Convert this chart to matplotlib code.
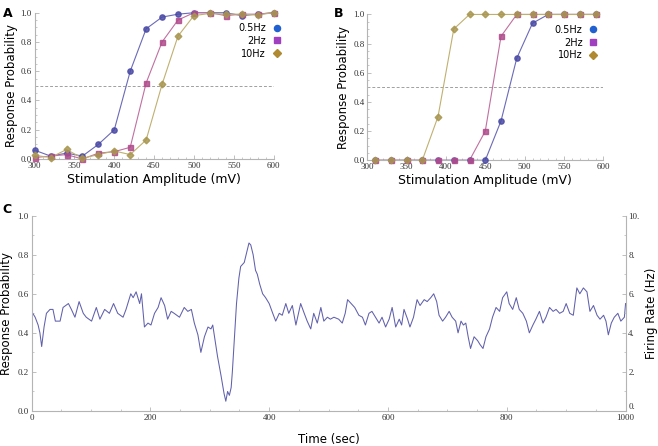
import matplotlib
matplotlib.use("Agg")
import matplotlib.pyplot as plt
from matplotlib.lines import Line2D
from matplotlib.ticker import MultipleLocator

# ---------------- data ----------------
amp_a = [300, 320, 340, 360, 380, 400, 420, 440, 460, 480, 500, 520, 540, 560, 580, 600]
a_05hz = [0.06, 0.02, 0.04, 0.02, 0.10, 0.20, 0.60, 0.89, 0.97, 0.99, 1.0, 1.0, 1.0, 0.98, 0.99, 1.0]
a_2hz = [0.01, 0.02, 0.03, 0.0, 0.04, 0.05, 0.08, 0.52, 0.80, 0.95, 1.0, 1.0, 0.98, 0.99, 0.99, 1.0]
a_10hz = [0.025, 0.01, 0.065, 0.005, 0.03, 0.055, 0.03, 0.13, 0.51, 0.84, 0.98, 0.995, 0.99, 0.99, 0.985, 1.0]

amp_b = [310, 330, 350, 370, 390, 410, 430, 450, 470, 490, 510, 530, 550, 570, 590]
b_05hz = [0, 0, 0, 0, 0, 0, 0, 0.0, 0.27, 0.70, 0.94, 1.0, 1.0, 1.0, 1.0]
b_2hz = [0, 0, 0, 0, 0, 0, 0.0, 0.20, 0.85, 1.0, 1.0, 1.0, 1.0, 1.0, 1.0]
b_10hz = [0, 0, 0, 0.0, 0.30, 0.90, 1.0, 1.0, 1.0, 1.0, 1.0, 1.0, 1.0, 1.0, 1.0]

series_labels = ["0.5Hz", "2Hz", "10Hz"]

amp_ticks = [300, 350, 400, 450, 500, 550, 600]
prob_ticks = [0.0, 0.2, 0.4, 0.6, 0.8, 1.0]
prob_tick_labels = ["0.0", "0.2", "0.4", "0.6", "0.8", "1.0"]
time_ticks = [0, 200, 400, 600, 800, 1000]
rate_ticks = [0, 2, 4, 6, 8, 10]
rate_tick_labels = ["0.", "2.", "4.", "6.", "8.", "10."]

time_c = [0, 6, 11, 14, 17, 21, 25, 31, 36, 40, 48, 53, 62, 67, 73, 80, 87, 92, 101, 109,
          115, 123, 131, 138, 145, 154, 159, 167, 171, 176, 182, 185, 190, 196, 201, 207,
          213, 218, 224, 229, 235, 240, 249, 257, 263, 269, 274, 280, 285, 291, 297, 302,
          305, 308, 313, 319, 324, 327, 330, 333, 336, 338, 341, 345, 349, 352, 358, 362,
          366, 369, 373, 377, 380, 384, 389, 394, 400, 406, 411, 417, 422, 428, 433, 439,
          445, 453, 459, 464, 470, 475, 481, 487, 492, 498, 503, 509, 517, 523, 528, 532,
          538, 544, 551, 557, 562, 568, 573, 579, 585, 590, 596, 602, 607, 613, 619, 623,
          627, 633, 637, 643, 649, 654, 661, 666, 672, 677, 682, 686, 692, 697, 703, 708,
          714, 718, 723, 727, 731, 735, 739, 745, 751, 755, 760, 765, 771, 776, 782, 788,
          793, 800, 804, 810, 816, 821, 827, 833, 838, 844, 849, 855, 861, 866, 872, 878,
          883, 889, 895, 900, 906, 912, 918, 923, 929, 935, 940, 946, 952, 957, 963, 967,
          971, 976, 981, 987, 992, 998, 1000]
prob_c = [0.51, 0.48, 0.44, 0.40, 0.33, 0.43, 0.50, 0.52, 0.52, 0.46, 0.46, 0.53, 0.55, 0.52, 0.48, 0.56, 0.50, 0.48, 0.46, 0.53,
          0.47, 0.52, 0.50, 0.55, 0.50, 0.48, 0.52, 0.60, 0.58, 0.61, 0.55, 0.60, 0.43, 0.45, 0.44, 0.50,
          0.53, 0.58, 0.54, 0.47, 0.51, 0.50, 0.48, 0.53, 0.51, 0.52, 0.45, 0.39, 0.30, 0.38, 0.43, 0.42,
          0.44, 0.38, 0.28, 0.18, 0.09, 0.05, 0.10, 0.08, 0.12, 0.20, 0.35, 0.55, 0.68, 0.74, 0.76, 0.81,
          0.86, 0.85, 0.80, 0.72, 0.70, 0.65, 0.60, 0.58, 0.55, 0.50, 0.46, 0.50, 0.49, 0.55, 0.50, 0.54,
          0.44, 0.55, 0.50, 0.46, 0.42, 0.50, 0.45, 0.53, 0.46, 0.48, 0.47, 0.48, 0.47, 0.45, 0.50, 0.57,
          0.55, 0.53, 0.49, 0.48, 0.44, 0.50, 0.51, 0.48, 0.45, 0.48, 0.43, 0.47, 0.53, 0.43, 0.47, 0.44,
          0.52, 0.47, 0.43, 0.48, 0.57, 0.54, 0.57, 0.56, 0.58, 0.60, 0.56, 0.49, 0.46, 0.48, 0.51, 0.48,
          0.46, 0.40, 0.46, 0.44, 0.45, 0.38, 0.32, 0.38, 0.36, 0.34, 0.32, 0.38, 0.42, 0.48, 0.53, 0.51,
          0.58, 0.61, 0.55, 0.52, 0.58, 0.52, 0.50, 0.46, 0.40, 0.44, 0.47, 0.51, 0.45, 0.48, 0.53, 0.51,
          0.52, 0.50, 0.51, 0.55, 0.50, 0.49, 0.63, 0.60, 0.63, 0.61, 0.51, 0.54, 0.49, 0.47, 0.49, 0.46,
          0.39, 0.45, 0.48, 0.50, 0.46, 0.48, 0.55]

# ---------------- style ----------------
line_cols = ["#6a6ab8", "#c070a0", "#c0b070"]
mark_cols = ["#4a4aa6", "#b04c8c", "#a89650"]
leg_cols = ["#2060d0", "#a040c0", "#b08a30"]
markers = ["o", "s", "D"]
msizes = [3.8, 3.6, 3.4]
axis_col = "#b4b4b4"
serif = "Liberation Serif"
sans = "DejaVu Sans"
tick_fs = 6.5
label_fs = 8.5

fig = plt.figure(figsize=(6.58, 4.46), dpi=100)


def style_ticks(ax):
    ax.tick_params(which="both", direction="in", color=axis_col, labelsize=tick_fs,
                   labelcolor="#333333", pad=2)
    ax.tick_params(which="major", length=3, width=0.6)
    ax.tick_params(which="minor", length=1.6, width=0.5)
    for lab in ax.get_xticklabels() + ax.get_yticklabels():
        lab.set_fontfamily(serif)


def style_axes(ax):
    for s in ["top", "right"]:
        ax.spines[s].set_visible(False)
    for s in ["left", "bottom"]:
        ax.spines[s].set_color(axis_col)
        ax.spines[s].set_linewidth(0.8)
    style_ticks(ax)


def panel(rect, amp, series, letter, lx, leg_x):
    ax = fig.add_axes(rect)
    ax.axhline(0.5, color="#a0a0a0", lw=0.7, ls=(0, (3, 2)), zorder=1)
    for i, ys in enumerate(series):
        ax.plot(amp, ys, color=line_cols[i], lw=0.8, zorder=2, clip_on=False)
        ax.plot(amp, ys, ls="none", marker=markers[i], ms=msizes[i], mfc=mark_cols[i],
                mec=mark_cols[i], alpha=0.85, zorder=3, clip_on=False)
    ax.set_xlim(300, 600)
    ax.set_ylim(0, 1.0)
    ax.set_xticks(amp_ticks)
    ax.xaxis.set_minor_locator(MultipleLocator(10))
    ax.set_yticks(prob_ticks, prob_tick_labels)
    ax.yaxis.set_minor_locator(MultipleLocator(0.05))
    style_axes(ax)
    ax.set_xlabel("Stimulation Amplitude (mV)", fontsize=label_fs + 0.5, fontfamily=sans, labelpad=2)
    ax.set_ylabel("Response Probability", fontsize=label_fs, fontfamily=sans, labelpad=2)
    handles = [Line2D([], [], ls="none", marker=markers[i], ms=msizes[i] + 0.6,
                      mfc=leg_cols[i], mec=leg_cols[i]) for i in range(3)]
    ax.legend(handles, series_labels, loc="upper right", bbox_to_anchor=(leg_x, 0.99),
              markerfirst=False, frameon=False, handlelength=1.0, handletextpad=0.6,
              labelspacing=0.3, prop={"family": sans, "size": 7})
    fig.text(lx, 0.985, letter, fontsize=9, fontweight="bold", fontfamily=sans, va="top")
    return ax


panel([0.0527, 0.6435, 0.363, 0.328], amp_a, [a_05hz, a_2hz, a_10hz], "A", 0.004, 1.07)
panel([0.558, 0.6406, 0.359, 0.327], amp_b, [b_05hz, b_2hz, b_10hz], "B", 0.507, 1.015)

# ---------------- panel C ----------------
axc = fig.add_axes([0.048, 0.0785, 0.9027, 0.438])
axc.plot(time_c, prob_c, color="#6060ac", lw=0.75)
axc.set_xlim(0, 1000)
axc.set_ylim(0, 1.0)
axc.set_xticks(time_ticks)
axc.xaxis.set_minor_locator(MultipleLocator(50))
axc.set_yticks(prob_ticks, prob_tick_labels)
axc.yaxis.set_minor_locator(MultipleLocator(0.1))
style_axes(axc)
axc.set_xlabel("Time (sec)", fontsize=label_fs, fontfamily=sans, labelpad=8)
axc.set_ylabel("Response Probability", fontsize=label_fs, fontfamily=sans, labelpad=3)

axr = axc.twinx()
axr.set_ylim(0, 10)
axr.set_yticks(rate_ticks, rate_tick_labels)
axr.yaxis.set_minor_locator(MultipleLocator(1))
for s in ["top", "left", "bottom"]:
    axr.spines[s].set_visible(False)
axr.spines["right"].set_color(axis_col)
axr.spines["right"].set_linewidth(0.8)
style_ticks(axr)
axr.get_yticklabels()[0].set_verticalalignment("bottom")
axr.set_ylabel("Firing Rate (Hz)", fontsize=label_fs, fontfamily=sans, labelpad=4)
fig.text(0.004, 0.545, "C", fontsize=9, fontweight="bold", fontfamily=sans, va="top")

fig.savefig("out.png", dpi=100)
